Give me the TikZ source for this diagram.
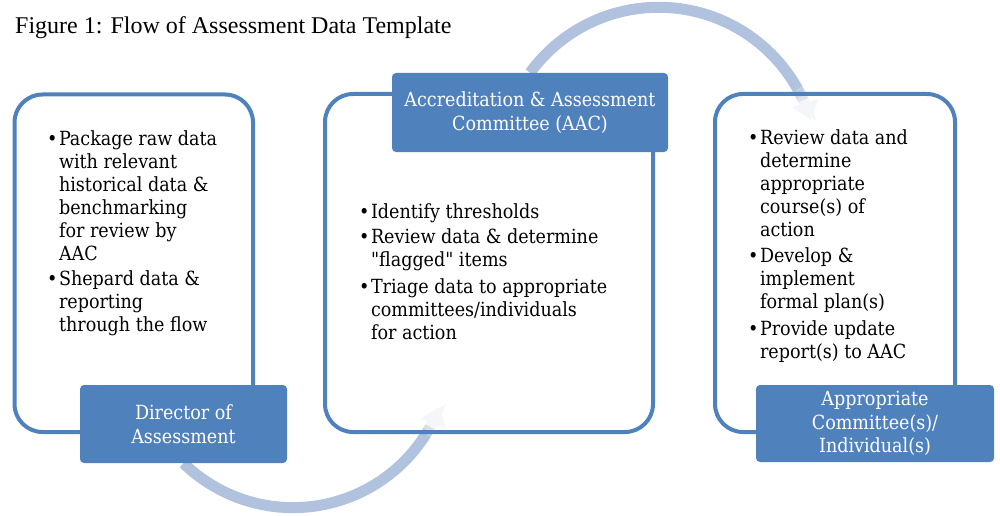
\documentclass[tikz,border=0pt]{standalone}
\usepackage{fontspec}
\usepackage{array}
\setmainfont{Liberation Serif}
\newfontfamily\boxfont{DejaVu Serif Condensed}
\usetikzlibrary{arrows.meta}

\definecolor{accent}{RGB}{79,129,189}
\definecolor{arcblue}{RGB}{177,194,222}

\pgfdeclarelayer{background}
\pgfsetlayers{background,main}

\newcommand{\bul}{\textbullet}

\tikzset{
  panel/.style={draw=accent, line width=4pt, rounded corners=28pt, inner sep=0pt},
  tagbox/.style={fill=accent, rounded corners=4pt, text=white, align=center,
    font=\boxfont\fontsize{19.5}{23.5}\selectfont},
  listtext/.style={inner sep=0pt, anchor=north west,
    font=\boxfont\fontsize{19.5}{23}\selectfont},
  flowarc/.style={line width=11pt, draw=arcblue}
}

\begin{document}
\begin{tikzpicture}[x=1pt, y=-1pt]
    \useasboundingbox (0,0) rectangle (1000,516);

    % Heading
    \node[anchor=base west, inner sep=0pt, font=\fontsize{24}{28}\selectfont] (title)
        at (15,34) {Figure 1: Flow of Assessment Data Template};

    % Outlined panels
    \node[panel, minimum width=238.5pt, minimum height=337.5pt] (dirpanel) at (133.75,263.25) {};
    \node[panel, minimum width=328pt, minimum height=338pt] (aacpanel) at (489,263) {};
    \node[panel, minimum width=240pt, minimum height=338pt] (cmtpanel) at (835,263) {};

    % Bullet lists
    \node[listtext] (dirlist) at (47,129) {%
        \begin{tabular}{@{}l@{\hspace{1.5pt}}l@{}}
        \bul & Package raw data\\
             & with relevant\\
             & historical data \&\\
             & benchmarking\\
             & for review by\\
             & AAC\\[2pt]
        \bul & Shepard data \&\\
             & reporting\\
             & through the flow
        \end{tabular}};
    \node[listtext] (aaclist) at (359,202) {%
        \begin{tabular}{@{}l@{\hspace{1.5pt}}l@{}}
        \bul & Identify thresholds\\[2pt]
        \bul & Review data \& determine\\
             & "flagged" items\\[4pt]
        \bul & Triage data to appropriate\\
             & committees/individuals\\
             & for action
        \end{tabular}};
    \node[listtext] (cmtlist) at (748,128) {%
        \begin{tabular}{@{}l@{\hspace{1.5pt}}l@{}}
        \bul & Review data and\\
             & determine\\
             & appropriate\\
             & course(s) of\\
             & action\\[3pt]
        \bul & Develop \&\\
             & implement\\
             & formal plan(s)\\[4pt]
        \bul & Provide update\\
             & report(s) to AAC
        \end{tabular}};

    % Filled tags
    \node[tagbox, minimum width=207pt, minimum height=78pt] (dir) at (183.5,424) {Director of\\Assessment};
    \node[tagbox, minimum width=276pt, minimum height=79pt] (aac) at (530,112.5) {Accreditation \& Assessment\\Committee (AAC)};
    \node[tagbox, minimum width=238pt, minimum height=77pt] (cmt) at (875,423.5) {Appropriate\\Committee(s)/\\Individual(s)};

    % Curved flow arrows, fading towards the tip
    \begin{pgfonlayer}{background}
        \draw[flowarc] (aac.north) arc[start angle=-144, end angle=-29, radius=159] coordinate (topfade);
        \foreach \a/\b/\p in {-29/-27.5/80, -27.5/-26/62, -26/-24.5/42} {
            \draw[flowarc, draw=arcblue!\p] (topfade) arc[start angle=\a, end angle=\b, radius=159] coordinate (topfade);
        }
        \draw[flowarc, draw=arcblue!14, -{Triangle[width=26pt,length=18pt]}]
            (topfade) arc[start angle=-24.5, end angle=-16.8, radius=159];

        \draw[flowarc] (dir.south) arc[start angle=134.2, end angle=32, radius=157] coordinate (lowfade);
        \foreach \a/\b/\p in {32/30.5/75, 30.5/29/50} {
            \draw[flowarc, draw=arcblue!\p] (lowfade) arc[start angle=\a, end angle=\b, radius=157] coordinate (lowfade);
        }
        \draw[flowarc, draw=arcblue!14, -{Triangle[width=26pt,length=18pt]}]
            (lowfade) arc[start angle=29, end angle=21, radius=157];
    \end{pgfonlayer}
\end{tikzpicture}
\end{document}
